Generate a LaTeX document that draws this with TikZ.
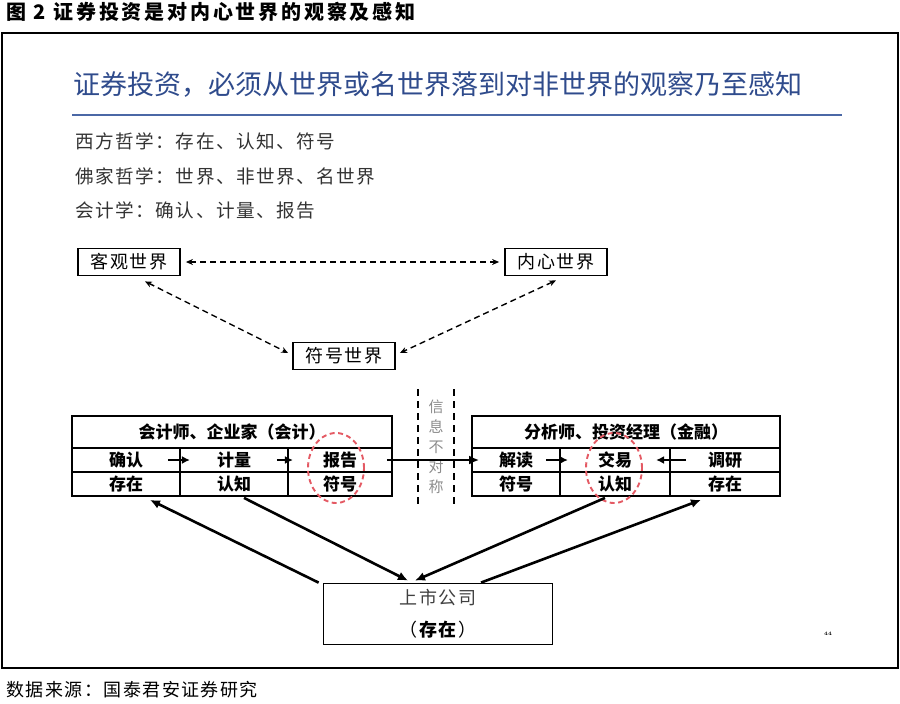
\documentclass[tikz,border=0pt]{standalone}
\usepackage{fontspec}
\usepackage{xcolor}
\usetikzlibrary{arrows.meta, positioning, calc, shapes.geometric}
\newfontfamily\cjk{Noto Sans CJK SC}
\newfontfamily\cjksp{Noto Sans CJK SC}[LetterSpace=8]
\newfontfamily\cjkwide{Noto Sans CJK SC}[LetterSpace=14]
\definecolor{titleblue}{HTML}{2F4B8C}
\definecolor{ruleblue}{HTML}{4B68A6}
\definecolor{circred}{HTML}{E45A64}

\begin{document}
\begin{tikzpicture}[x=1pt, y=-1pt,
    world/.style={draw, line width=1.8pt, minimum width=102pt, minimum height=27pt, inner sep=0pt, font=\cjksp\fontsize{18}{20}\selectfont},
    head/.style={draw, line width=1.8pt, minimum height=32pt, inner sep=0pt, font=\cjk\bfseries\fontsize{17}{19}\selectfont},
    cell/.style={draw, line width=1.8pt, minimum height=24pt, inner sep=0pt, font=\cjk\bfseries\fontsize{17}{19}\selectfont},
    line/.style={anchor=west, text=black!80, font=\cjksp\fontsize{18.6}{20}\selectfont},
    dasharrow/.style={dashed, line width=1.4pt, dash pattern=on 6pt off 4pt, {Stealth[length=7pt,width=6pt]}-{Stealth[length=7pt,width=6pt]}},
    flow/.style={line width=2.6pt, -{Latex[length=10pt,width=9pt]}},
    step arrow/.style={line width=2.4pt, -{Latex[length=8pt,width=8pt]}},
    oval/.style={ellipse, draw=circred, dashed, line width=1.9pt, dash pattern=on 5pt off 3.5pt, minimum width=56pt, minimum height=70pt}]
    \useasboundingbox (0,0) rectangle (900,704);
    \node[anchor=west, font=\cjkwide\bfseries\fontsize{20}{22}\selectfont] (caption) at (3,12) {图 2 证券投资是对内心世界的观察及感知};
    \draw[line width=1.8pt] (2,33) rectangle (898,668);
    \node[anchor=west, text=titleblue, font=\cjk\fontsize{27}{30}\selectfont] (title) at (70,85) {证券投资，必须从世界或名世界落到对非世界的观察乃至感知};
    \draw[ruleblue, line width=2.2pt] (72,115) -- (842,115);
    \node[line] (west) at (72,141) {西方哲学：存在、认知、符号};
    \node[line] (buddha) at (72,176) {佛家哲学：世界、非世界、名世界};
    \node[line] (acct) at (72,210) {会计学：确认、计量、报告};

    % three worlds
    \node[world] (kg) at (129,262) {客观世界};
    \node[world] (nx) at (556,262) {内心世界};
    \node[world] (fh) at (344,356) {符号世界};
    \draw[dasharrow] ($(kg.east)+(5,0)$) -- ($(nx.west)+(-5,0)$);
    \draw[dasharrow] ($(kg.south)+(16,5)$) -- ($(fh.west)+(-4,-3)$);
    \draw[dasharrow] ($(nx.south)+(0,4)$) -- ($(fh.east)+(4,-3)$);

    % information asymmetry
    \node[minimum width=36pt, minimum height=115pt, inner sep=0pt, align=center, text=black!45,
        font=\cjk\fontsize{15}{20}\selectfont] (asym) at (436,447) {信\\息\\不\\对\\称};
    \draw[dashed, line width=1.5pt, dash pattern=on 7pt off 5pt] (asym.north west) -- (asym.south west);
    \draw[dashed, line width=1.5pt, dash pattern=on 7pt off 5pt] (asym.north east) -- (asym.south east);

    % accountant table
    \node[head, minimum width=320pt] (lhead) at (232,432) {会计师、企业家（会计）};
    \node[cell, minimum width=108pt] (queren) at (126,460) {确认};
    \node[cell, minimum width=108pt] (jiliang) at (234,460) {计量};
    \node[cell, minimum width=104pt] (baogao) at (340,460) {报告};
    \node[cell, minimum width=108pt] (lcunzai) at (126,484) {存在};
    \node[cell, minimum width=108pt] (lrenzhi) at (234,484) {认知};
    \node[cell, minimum width=104pt] (lfuhao) at (340,484) {符号};
    \draw[step arrow] ($(queren.east)+(-13,0)$) -- ($(queren.east)+(9,0)$);
    \draw[step arrow] ($(jiliang.east)+(-12,0)$) -- ($(jiliang.east)+(4,0)$);

    % analyst table
    \node[head, minimum width=308pt] (rhead) at (626,432) {分析师、投资经理（金融）};
    \node[cell, minimum width=88pt] (jiedu) at (516,460) {解读};
    \node[cell, minimum width=110pt] (jiaoyi) at (615,460) {交易};
    \node[cell, minimum width=110pt] (diaoyan) at (725,460) {调研};
    \node[cell, minimum width=88pt] (rfuhao) at (516,484) {符号};
    \node[cell, minimum width=110pt] (rrenzhi) at (615,484) {认知};
    \node[cell, minimum width=110pt] (rcunzai) at (725,484) {存在};
    \draw[step arrow] ($(jiedu.east)+(-15,0)$) -- ($(jiedu.east)+(7,0)$);
    \draw[step arrow] ($(diaoyan.west)+(17,0)$) -- ($(diaoyan.west)+(-13,0)$);
    \draw[flow] ($(baogao.east)+(-6,0)$) -- ($(jiedu.west)+(8,0)$);

    \node[oval] (lcirc) at (336,468) {};
    \node[oval] (rcirc) at (614,468) {};

    % listed company
    \node[draw, line width=1.8pt, minimum width=229pt, minimum height=61pt, inner sep=0pt, align=center,
        font=\cjksp\fontsize{18}{32}\selectfont] (company) at (438,614) {\textcolor{black!75}{上市公司}\\（\textbf{存在}）};
    \draw[flow] ($(company.north west)+(-4,0)$) -- ($(lcunzai.south)+(24,3)$);
    \draw[flow] ($(lrenzhi.south)+(10,1)$) -- ($(company.north)+(-30,-2)$);
    \draw[flow] ($(rrenzhi.south)+(-10,1)$) -- ($(company.north)+(-23,-2)$);
    \draw[flow] ($(company.north)+(43,0)$) -- ($(rcunzai.south)+(-24,3)$);

    \node[font=\bfseries\fontsize{5}{6}\selectfont] (pagenum) at (828,634) {44};
    \node[anchor=west, font=\cjksp\fontsize{18}{20}\selectfont] (source) at (3,690) {数据来源：国泰君安证券研究};
\end{tikzpicture}
\end{document}
